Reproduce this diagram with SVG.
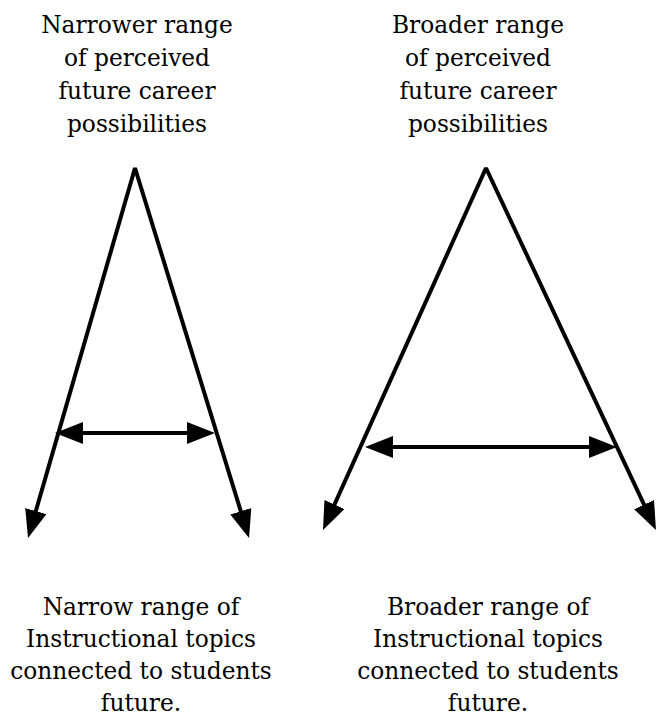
<svg xmlns="http://www.w3.org/2000/svg" width="658" height="717" viewBox="0 0 658 717">
  <style>
    .lbl { font-family: "DejaVu Serif", "Liberation Serif", serif; font-size: 23.3px; fill: #000; text-anchor: middle; }
    .leg { fill: none; stroke: #000; stroke-width: 4; stroke-linejoin: bevel; }
    .bar { stroke: #000; stroke-width: 4; }
  </style>
  <defs>
    <marker id="head" markerUnits="userSpaceOnUse" markerWidth="28" markerHeight="22" refX="18" refY="11" orient="auto-start-reverse" viewBox="0 0 28 22">
      <path d="M0,0 L28,11 L0,22 Z" fill="#000"/>
    </marker>
  </defs>

  <!-- Left: narrower range -->
  <g id="top-left">
    <text class="lbl" x="137" y="33">Narrower range</text>
    <text class="lbl" x="137" y="66">of perceived</text>
    <text class="lbl" x="137" y="99">future career</text>
    <text class="lbl" x="137" y="132">possibilities</text>
  </g>
  <g id="bottom-left">
    <text class="lbl" x="141" y="615">Narrow range of</text>
    <text class="lbl" x="141" y="647">Instructional topics</text>
    <text class="lbl" x="141" y="679">connected to students</text>
    <text class="lbl" x="141" y="711">future.</text>
  </g>

  <!-- Right: broader range -->
  <g id="top-right">
    <text class="lbl" x="478" y="33">Broader range</text>
    <text class="lbl" x="478" y="66">of perceived</text>
    <text class="lbl" x="478" y="99">future career</text>
    <text class="lbl" x="478" y="132">possibilities</text>
  </g>
  <g id="bottom-right">
    <text class="lbl" x="488" y="615">Broader range of</text>
    <text class="lbl" x="488" y="647">Instructional topics</text>
    <text class="lbl" x="488" y="679">connected to students</text>
    <text class="lbl" x="488" y="711">future.</text>
  </g>

  <g id="connectors">
    <!-- narrow A -->
    <polyline class="leg" points="30.8,528.4 135,168 246.1,528.4" marker-start="url(#head)" marker-end="url(#head)"/>
    <line class="bar" x1="65" y1="433" x2="205" y2="433" marker-start="url(#head)" marker-end="url(#head)"/>
    <!-- broad A -->
    <polyline class="leg" points="327.1,520.9 486,168 651.7,520.9" marker-start="url(#head)" marker-end="url(#head)"/>
    <line class="bar" x1="375" y1="447" x2="607" y2="447" marker-start="url(#head)" marker-end="url(#head)"/>
  </g>
</svg>
